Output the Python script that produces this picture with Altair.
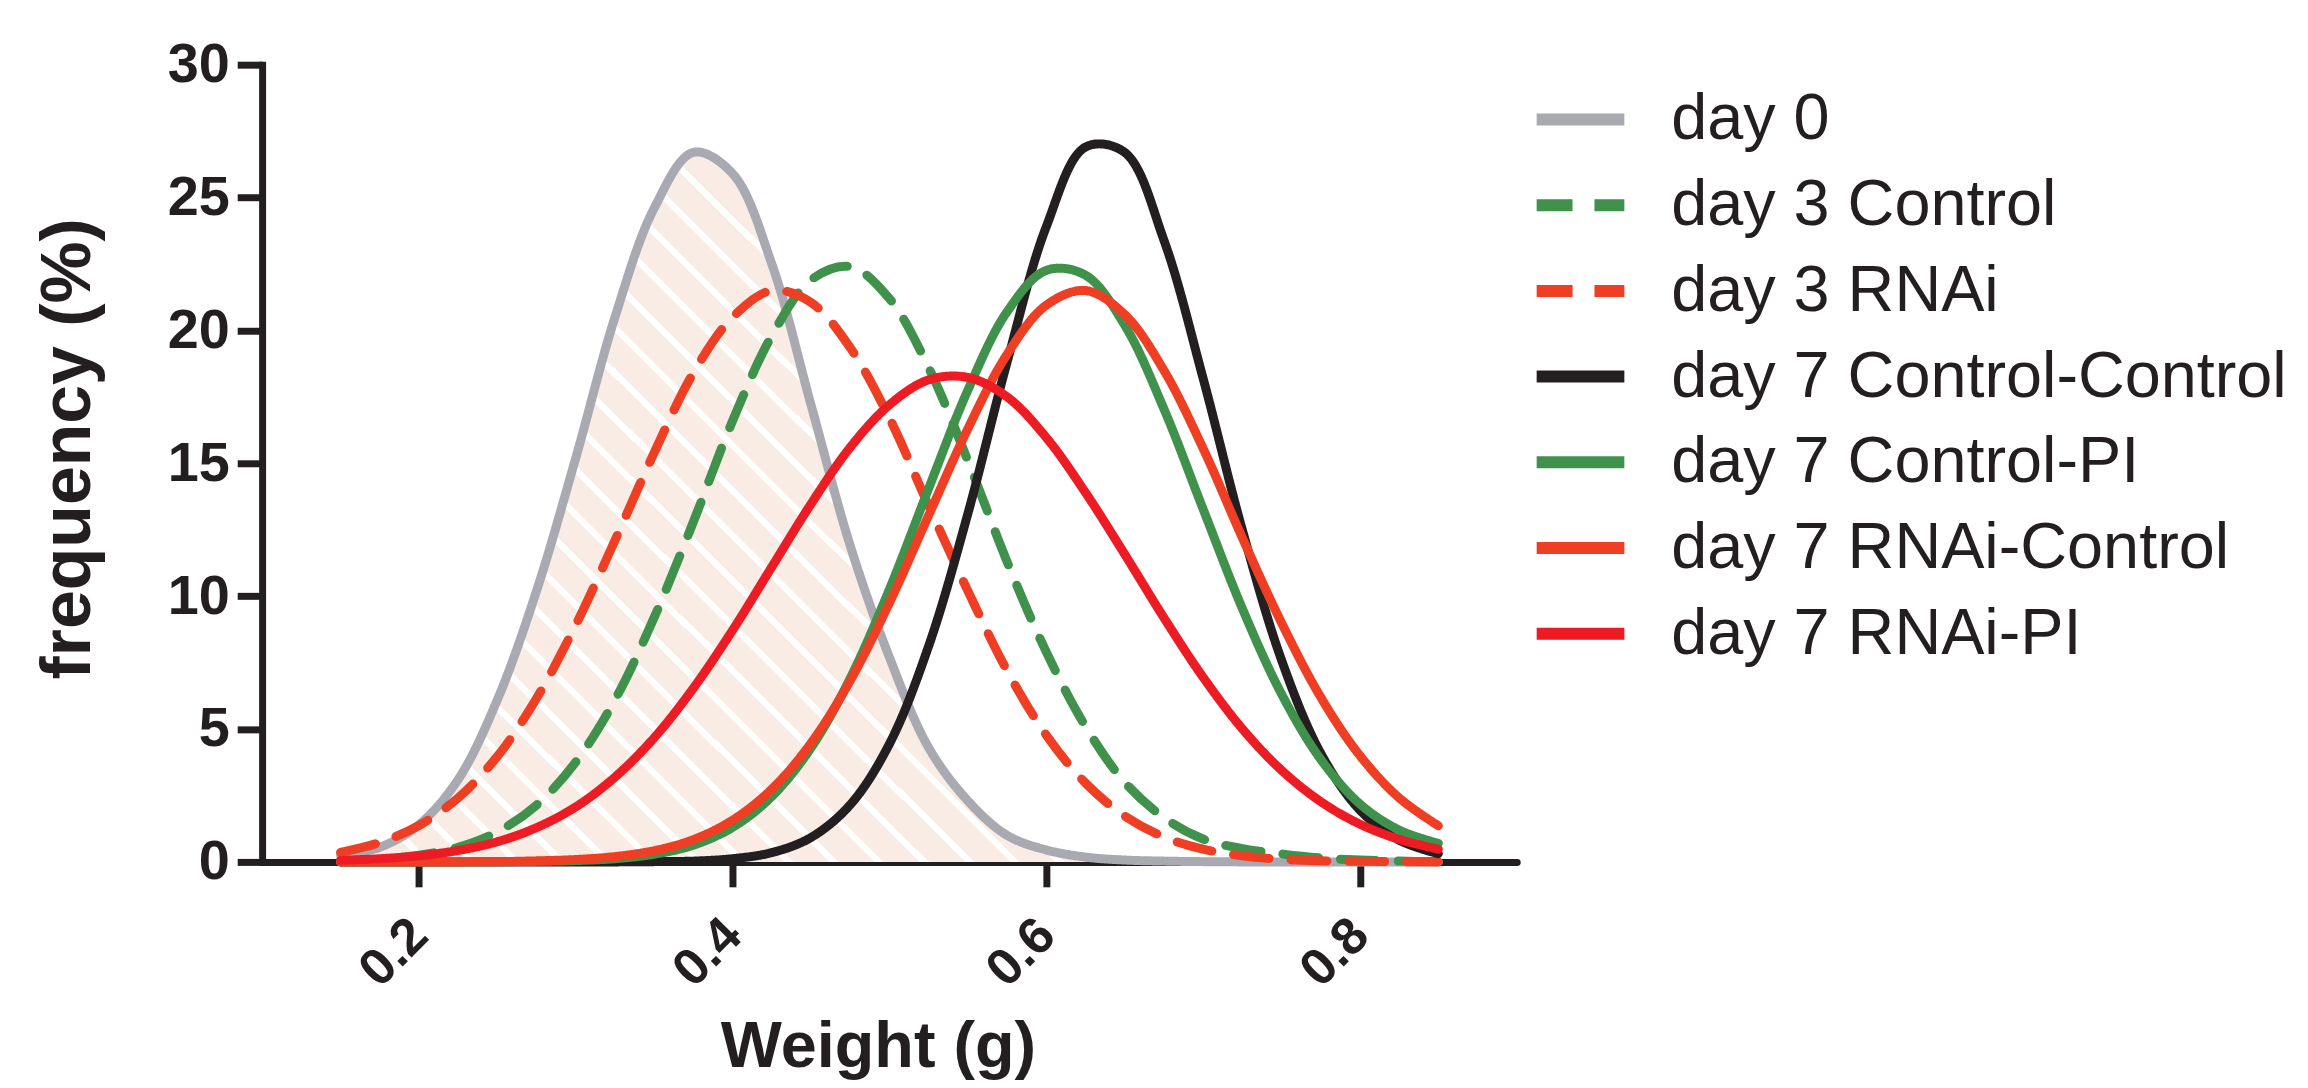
import altair as alt
import pandas as pd

# ---------------- data ----------------
weights = [0.150, 0.175, 0.200, 0.225, 0.250, 0.275, 0.300, 0.325, 0.350, 0.375,
           0.400, 0.425, 0.450, 0.475, 0.500, 0.525, 0.550, 0.575, 0.600, 0.625,
           0.650, 0.675, 0.700, 0.725, 0.750, 0.775, 0.800, 0.825, 0.850]

series_names = ["day 0", "day 3 Control", "day 3 RNAi", "day 7 Control-Control",
                "day 7 Control-PI", "day 7 RNAi-Control", "day 7 RNAi-PI"]

day0 = [0.25, 0.55, 1.4, 3.1, 6.1, 10.2, 15.2, 20.5, 24.6, 26.7,
        25.9, 22.5, 17.2, 11.9, 7.7, 4.3, 2.3, 1.0, 0.45, 0.18,
        0.07, 0.03, 0.01, 0, 0, 0, 0, 0, 0]
day3_control = [0.04, 0.1, 0.25, 0.55, 1.13, 2.14, 3.76, 6.1, 9.2, 12.8,
                16.6, 19.8, 21.9, 22.4, 21.2, 18.6, 15.1, 11.3, 7.9, 5.1,
                3.0, 1.67, 0.86, 0.5, 0.3, 0.15, 0.07, 0.03, 0.01]
day3_rnai = [0.36, 0.73, 1.37, 2.41, 3.97, 6.16, 8.92, 12.1, 15.4, 18.4,
             20.5, 21.5, 21.05, 19.35, 16.7, 13.4, 10.2, 7.2, 4.77, 2.97,
             1.73, 0.94, 0.48, 0.23, 0.10, 0.04, 0.02, 0.01, 0.0]
day7_ctrl_ctrl = [0, 0, 0, 0, 0, 0, 0, 0, 0.01, 0.03,
                  0.12, 0.35, 0.92, 2.15, 4.44, 8.12, 13.1, 18.8, 23.9, 26.9,
                  26.7, 23.4, 18.2, 12.5, 7.6, 4.09, 1.95, 0.82, 0.31]
day7_ctrl_pi = [0, 0, 0, 0, 0.005, 0.02, 0.05, 0.12, 0.29, 0.63,
                1.3, 2.46, 4.29, 6.91, 10.26, 14.05, 17.75, 20.7, 22.26, 22.08,
                20.2, 17.05, 13.28, 9.54, 6.32, 3.86, 2.18, 1.2, 0.7]
day7_rnai_ctrl = [0, 0, 0, 0, 0.01, 0.04, 0.09, 0.2, 0.42, 0.84,
                  1.57, 2.74, 4.47, 6.82, 9.75, 13.04, 16.3, 19.1, 20.95, 21.5,
                  20.6, 18.5, 15.56, 12.2, 9.0, 6.2, 4.0, 2.41, 1.36]
day7_rnai_pi = [0.06, 0.12, 0.23, 0.43, 0.76, 1.29, 2.07, 3.19, 4.67, 6.54,
                8.72, 11.1, 13.47, 15.6, 17.2, 18.14, 18.23, 17.5, 15.97, 13.9,
                11.58, 9.19, 6.95, 5.01, 3.45, 2.27, 1.42, 0.85, 0.48]

x_ticks = [0.2, 0.4, 0.6, 0.8]
y_ticks = [0, 5, 10, 15, 20, 25, 30]

# ---------------- styles ----------------
colors = ["#A8A9B1", "#3F914B", "#EE3F24", "#231F20", "#3F914B", "#EE3F24", "#ED1C24"]
dashes = [[1, 0], [36, 22], [36, 22], [1, 0], [1, 0], [1, 0], [1, 0]]
INK = "#231F20"
PEACH = "#F8ECE5"
FONT = "Liberation Sans"

all_values = [day0, day3_control, day3_rnai, day7_ctrl_ctrl,
              day7_ctrl_pi, day7_rnai_ctrl, day7_rnai_pi]
rows = []
for name, vals in zip(series_names, all_values):
    for w, f in zip(weights, vals):
        rows.append({"series": name, "weight": w, "freq": f})
df = pd.DataFrame(rows)
df0 = pd.DataFrame({"weight": weights, "freq": day0})

# hatched fill (white diagonal stripes on peach) through a striped gradient
N = 40
wf = 0.2
stops = []
for k in range(N):
    a = k / N
    b = (k + 1 - wf) / N
    c = (k + 1) / N
    stops += [alt.GradientStop(color=PEACH, offset=a),
              alt.GradientStop(color=PEACH, offset=b),
              alt.GradientStop(color="#FFFFFF", offset=b),
              alt.GradientStop(color="#FFFFFF", offset=c)]
hatch = alt.LinearGradient(gradient="linear", stops=stops,
                           x1=0, y1=1, x2=1.16, y2=0.2466)

x_axis = alt.Axis(values=x_ticks, format=".1f", labelAngle=315, labelAlign="right",
                  labelBaseline="middle", labelFontSize=52, labelFont=FONT,
                  labelFontWeight="bold", labelColor=INK, labelPadding=40,
                  labelFlush=False, labelOverlap=False,
                  tickSize=25, tickWidth=7, tickColor=INK,
                  domainColor=INK, domainWidth=7, domainCap="round", grid=False,
                  title="Weight (g)", titleFont=FONT, titleFontSize=65,
                  titleFontWeight="bold", titleColor=INK, titleX=618, titleY=205,
                  titleBaseline="alphabetic", titleAlign="center")
y_axis = alt.Axis(values=y_ticks, labelFontSize=56, labelFont=FONT,
                  labelFontWeight="bold", labelColor=INK, labelPadding=8,
                  labelFlush=False, labelOverlap=False,
                  tickSize=25, tickWidth=7, tickColor=INK,
                  domainColor=INK, domainWidth=7, domainCap="square", grid=False,
                  title="frequency (%)", titleFont=FONT, titleFontSize=70,
                  titleFontWeight="bold", titleColor=INK, titleAngle=270,
                  titleX=-173, titleY=385, titleBaseline="alphabetic",
                  titleAlign="center")

xs = alt.Scale(domain=[0.1, 0.9], nice=False, zero=False)
ys = alt.Scale(domain=[0, 30], nice=False)

legend = alt.Legend(title=None, orient="none", legendX=1283, legendY=15,
                    symbolType="M-1.3,0L1.3,0", symbolSize=4583, symbolStrokeWidth=12,
                    labelFontSize=65, labelFont=FONT, labelColor=INK,
                    labelOffset=51, rowPadding=13, padding=0, labelLimit=1000,
                    symbolOffset=0)

area = alt.Chart(df0).mark_area(interpolate="catmull-rom", fill=hatch).encode(
    x=alt.X("weight:Q", scale=xs, axis=x_axis),
    y=alt.Y("freq:Q", scale=ys, axis=y_axis),
)

lines = alt.Chart(df).mark_line(interpolate="catmull-rom", strokeWidth=9,
                                strokeCap="round", strokeJoin="round").encode(
    x=alt.X("weight:Q", scale=xs, axis=x_axis),
    y=alt.Y("freq:Q", scale=ys, axis=y_axis),
    color=alt.Color("series:N", scale=alt.Scale(domain=series_names, range=colors),
                    legend=legend),
    strokeDash=alt.StrokeDash("series:N",
                              scale=alt.Scale(domain=series_names, range=dashes),
                              legend=legend),
)

chart = alt.layer(area, lines).properties(
    width=1259, height=800,
    autosize=alt.AutoSizeParams(type="none"),
    padding={"left": 255, "top": 55, "right": 786, "bottom": 225},
    background="#FFFFFF",
).configure_view(stroke=None)

chart.save("out.html", embed_options={"renderer": "svg", "actions": False})
